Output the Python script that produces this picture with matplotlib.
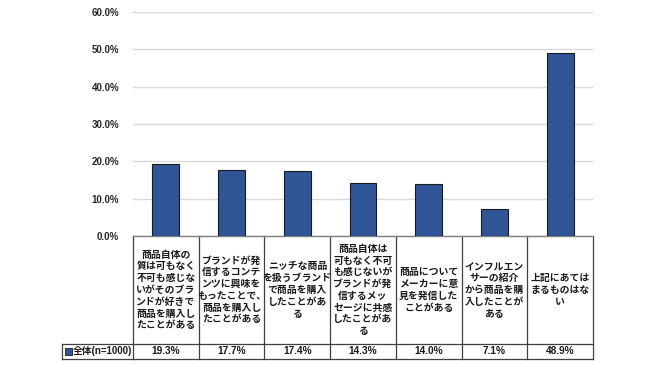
import matplotlib
matplotlib.use("Agg")
import matplotlib.pyplot as plt
from matplotlib.patches import Rectangle

plt.rcParams['font.family'] = ['Noto Sans CJK JP', 'DejaVu Sans']

categories = [
    "商品自体の\n質は可もなく\n不可も感じな\nいがそのブラ\nンドが好きで\n商品を購入し\nたことがある",
    "ブランドが発\n信するコンテ\nンツに興味を\nもったことで、\n商品を購入し\nたことがある",
    "ニッチな商品\nを扱うブランド\nで商品を購入\nしたことがあ\nる",
    "商品自体は\n可もなく不可\nも感じないが\nブランドが発\n信するメッ\nセージに共感\nしたことがあ\nる",
    "商品について\nメーカーに意\n見を発信した\nことがある",
    "インフルエン\nサーの紹介\nから商品を購\n入したことが\nある",
    "上記にあては\nまるものはな\nい",
]
values = [19.3, 17.7, 17.4, 14.3, 14.0, 7.1, 48.9]
series_name = "全体(n=1000)"
yticks = [0, 10, 20, 30, 40, 50, 60]
ytick_labels = ["0.0%", "10.0%", "20.0%", "30.0%", "40.0%", "50.0%", "60.0%"]

W, H = 650, 365
fig = plt.figure(figsize=(6.5, 3.65), dpi=100)
ax = fig.add_axes([133 / W, 1 - 236 / H, 460 / W, 224 / H])

latin = ['Liberation Sans Narrow', 'Liberation Sans', 'Noto Sans CJK JP']

n = len(values)
x = list(range(n))
bar_color = "#2F5597"
ax.bar(x, values, width=0.41, color=bar_color, edgecolor="#1a1a1a", linewidth=0.8, zorder=3)

ax.set_xlim(-0.5, n - 0.5)
ax.set_ylim(0, 60)
ax.set_yticks(yticks)
ax.set_yticklabels(ytick_labels, fontsize=7, fontweight="bold", color="#262626",
                   family=latin)
ax.tick_params(axis='y', length=0, pad=10)
ax.set_xticks([])
ax.grid(axis='y', color="#d9d9d9", linewidth=1.0, zorder=0)
for s in ["top", "right", "left"]:
    ax.spines[s].set_visible(False)
ax.spines["bottom"].set_color("#7f7f7f")
ax.spines["bottom"].set_linewidth(1.0)

def yfrac(py):
    return (236 - py) / 224.0

tr = ax.get_xaxis_transform()
line_kw = dict(color="#404040", linewidth=0.9, clip_on=False, transform=tr)
y_top = yfrac(236)
y_mid = yfrac(344)
y_bot = yfrac(359)
for i in range(n + 1):
    xb = i - 0.5
    ax.plot([xb, xb], [y_top, y_bot], **line_kw)
ax.plot([-0.5, n - 0.5], [y_mid, y_mid], **line_kw)
ax.plot([-0.5, n - 0.5], [y_bot, y_bot], **line_kw)

unit = 460 / n
x_left = -0.5 - (133 - 62) / unit
ax.plot([x_left, -0.5], [y_mid, y_mid], **line_kw)
ax.plot([x_left, -0.5], [y_bot, y_bot], **line_kw)
ax.plot([x_left, x_left], [y_mid, y_bot], **line_kw)

for i, (c, v) in enumerate(zip(categories, values)):
    ax.text(i, yfrac(290), c, transform=tr, ha="center", va="center",
            fontsize=7.1, fontweight="bold", linespacing=1.22, color="#1a1a1a", clip_on=False)
    ax.text(i, (y_mid + y_bot) / 2, f"{v:.1f}%", transform=tr, ha="center", va="center",
            fontsize=7.3, fontweight="bold", color="#1a1a1a", clip_on=False,
            family=latin)

sq_x = x_left + 2.5 / unit
ax.add_patch(Rectangle((sq_x, yfrac(355)), 7 / unit, 7 / 224.0, transform=tr,
                       facecolor=bar_color, edgecolor="#1a1a1a", linewidth=0.6, clip_on=False))
ax.text(sq_x + 8.5 / unit, (y_mid + y_bot) / 2, series_name, transform=tr, ha="left", va="center",
        fontsize=7.0, fontweight="bold", color="#1a1a1a", clip_on=False, family=latin)

fig.savefig("out.png", dpi=100)
